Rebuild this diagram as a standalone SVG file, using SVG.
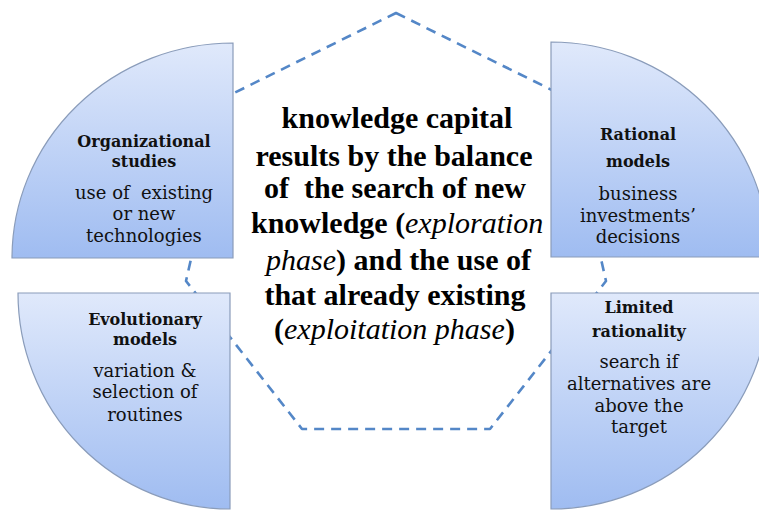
<svg xmlns="http://www.w3.org/2000/svg" width="759" height="510" viewBox="0 0 759 510">
  <defs>
    <linearGradient id="quarterFill" x1="0" y1="0" x2="0" y2="1">
      <stop offset="0" stop-color="#e0e9fb"/>
      <stop offset="1" stop-color="#9fbcf1"/>
    </linearGradient>
    <style>
      .quarter { stroke: #8a9cba; stroke-width: 1.2; }
      .frame { fill: none; stroke: #5487c7; stroke-width: 2.6; stroke-dasharray: 10 7; stroke-linejoin: round; }
      .head { font-family: 'DejaVu Serif', serif; font-weight: bold; font-size: 16px; fill: #111; text-anchor: middle; }
      .body { font-family: 'DejaVu Serif', serif; font-size: 18px; fill: #111; text-anchor: middle; }
      .core { font-family: 'Liberation Serif', serif; font-weight: bold; font-size: 30px; fill: #000; text-anchor: middle; }
      .core-start { font-family: 'Liberation Serif', serif; font-weight: bold; font-size: 30px; fill: #000; }
      .core-it { font-family: 'Liberation Serif', serif; font-style: italic; font-size: 30px; fill: #000; }
    </style>
  </defs>
  <rect width="759" height="510" fill="#ffffff"/>

  <!-- dashed heptagon frame behind the quarters -->
  <g id="connectors">
    <polygon class="frame" points="396,13 564,96 606,281 490,429 302,429 186,281 228,96"/>
  </g>

  <g id="organizational-studies">
    <path class="quarter" fill="url(#quarterFill)" d="M233,258 H12 A221,215 0 0 1 233,43 Z"/>
    <text class="head" x="144" y="147">Organizational</text>
    <text class="head" x="144" y="167">studies</text>
    <text class="body" x="144" y="199">use of&#160; existing</text>
    <text class="body" x="144" y="220">or new</text>
    <text class="body" x="144" y="242">technologies</text>
  </g>

  <g id="rational-models">
    <path class="quarter" fill="url(#quarterFill)" d="M551,257 V42 A218,215 0 0 1 769,257 Z"/>
    <text class="head" x="638" y="140">Rational</text>
    <text class="head" x="638" y="167">models</text>
    <text class="body" x="638" y="200">business</text>
    <text class="body" x="638" y="222">investments&#8217;</text>
    <text class="body" x="638" y="243">decisions</text>
  </g>

  <g id="evolutionary-models">
    <path class="quarter" fill="url(#quarterFill)" d="M230,293 H18 A212,216 0 0 0 230,509 Z"/>
    <text class="head" x="145" y="325">Evolutionary</text>
    <text class="head" x="145" y="345">models</text>
    <text class="body" x="145" y="377">variation &amp;</text>
    <text class="body" x="145" y="398">selection of</text>
    <text class="body" x="145" y="421">routines</text>
  </g>

  <g id="limited-rationality">
    <path class="quarter" fill="url(#quarterFill)" d="M551,293 H769 A218,216 0 0 1 551,509 Z"/>
    <text class="head" x="639" y="313">Limited</text>
    <text class="head" x="639" y="337">rationality</text>
    <text class="body" x="639" y="368">search if</text>
    <text class="body" x="639" y="390">alternatives are</text>
    <text class="body" x="639" y="412">above the</text>
    <text class="body" x="639" y="433">target</text>
  </g>

  <g id="knowledge-capital">
    <text class="core" x="397" y="128">knowledge capital</text>
    <text class="core" x="394" y="166">results by the balance</text>
    <text class="core" x="395" y="198">of&#160; the search of new</text>
    <text class="core-start" x="251" y="233">knowledge (</text>
    <text class="core-it" x="405" y="233">exploration</text>
    <text class="core-it" x="266" y="270">phase</text>
    <text class="core-start" x="336" y="270">) and the use of</text>
    <text class="core" x="395" y="305">that already existing</text>
    <text class="core-start" x="274" y="339">(</text>
    <text class="core-it" x="284" y="339">exploitation phase</text>
    <text class="core-start" x="505" y="339">)</text>
  </g>
</svg>
